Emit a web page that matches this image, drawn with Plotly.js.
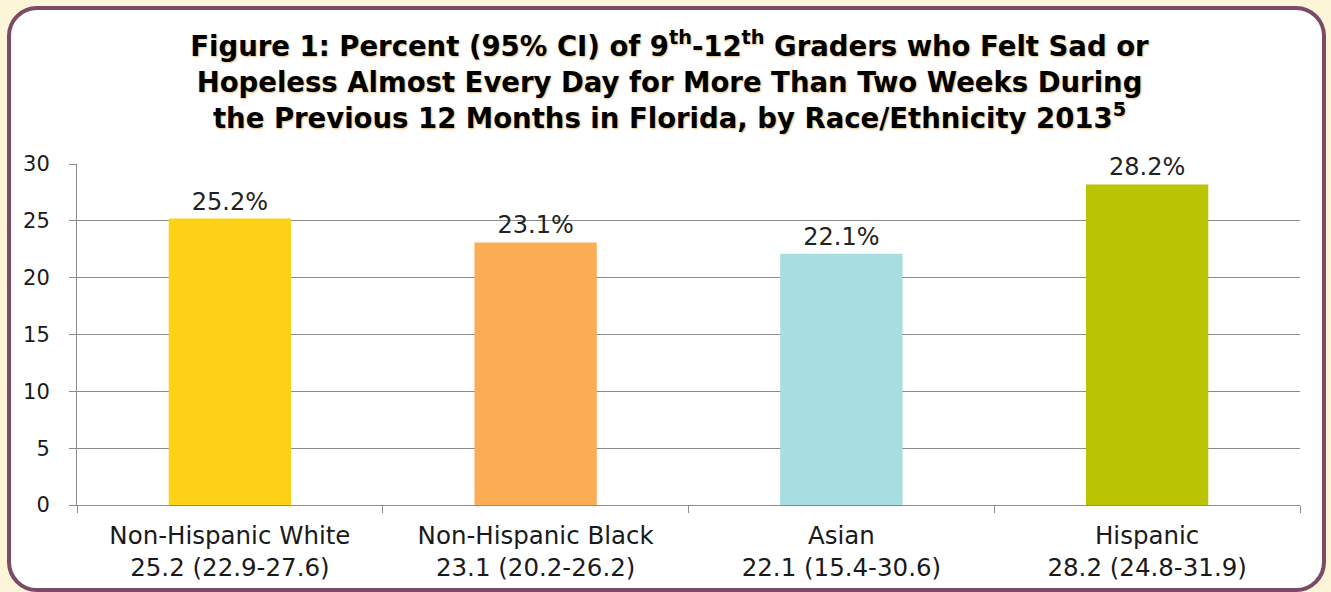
<!DOCTYPE html>
<html>
<head>
<meta charset="utf-8">
<script src="https://cdn.plot.ly/plotly-3.0.1.min.js"></script>
<style>
  html, body { margin:0; padding:0; width:1331px; height:592px; background:#fdf5d8; overflow:hidden; }
  #frame { position:absolute; left:7px; top:6px; width:1311px; height:578px; border:4px solid #7b4a66; border-radius:30px; background:#ffffff; }
  #chart { position:absolute; left:0; top:0; width:1331px; height:592px; }
</style>
</head>
<body>
<div id="frame"></div>
<div id="chart"></div>
<script>
const groups = ["Non-Hispanic White", "Non-Hispanic Black", "Asian", "Hispanic"];
const percents = [25.2, 23.1, 22.1, 28.2];
const ciLow = [22.9, 20.2, 15.4, 24.8];
const ciHigh = [27.6, 26.2, 30.6, 31.9];
const barColors = ["#fcd116", "#fbad56", "#a8dde1", "#bac402"];
const yTicks = [0, 5, 10, 15, 20, 25, 30];

const categoryLabels = groups.map((g, i) =>
  g + "<br>" + percents[i].toFixed(1) + " (" + ciLow[i].toFixed(1) + "-" + ciHigh[i].toFixed(1) + ")");

const FONT = "DejaVu Sans, Liberation Sans, Arial, sans-serif";

const trace = {
  type: "bar",
  x: categoryLabels,
  y: percents,
  marker: { color: barColors },
  texttemplate: "%{y:.1f}%",
  textposition: "outside",
  cliponaxis: false,
  textfont: { family: FONT, size: 24, color: "#222222" },
  hoverinfo: "none"
};

const layout = {
  width: 1331, height: 592,
  paper_bgcolor: "rgba(0,0,0,0)",
  plot_bgcolor: "rgba(0,0,0,0)",
  margin: { l: 77, r: 31, t: 164, b: 87 },
  bargap: 0.6,
  showlegend: false,
  title: {
    text: "Figure 1: Percent (95% CI) of 9<sup>th</sup>-12<sup>th</sup> Graders who Felt Sad or<br>Hopeless Almost Every Day for More Than Two Weeks During<br>the Previous 12 Months in Florida, by Race/Ethnicity 2013<sup>5</sup>",
    x: 0.503, xref: "container", xanchor: "center",
    y: 1 - 56/592, yref: "container", yanchor: "top",
    font: { family: FONT, size: 27.5, color: "#000000", weight: "bold", shadow: "1px 1px 2px rgba(205,150,60,0.6)" }
  },
  xaxis: {
    type: "category",
    range: [-0.5, 3.5],
    showline: true, linecolor: "#8c8c8c", linewidth: 1,
    ticks: "outside", tickson: "boundaries", ticklen: 7, tickcolor: "#8c8c8c",
    ticklabelstandoff: 9,
    showgrid: false,
    tickfont: { family: FONT, size: 24.5, color: "#1a1a1a" },
    fixedrange: true
  },
  yaxis: {
    range: [0, 30],
    tickvals: yTicks,
    showline: true, linecolor: "#8c8c8c", linewidth: 1,
    ticks: "outside", ticklen: 7, tickcolor: "#8c8c8c",
    ticklabelstandoff: 15,
    showgrid: true, gridcolor: "#8c8c8c", gridwidth: 1,
    zeroline: false,
    tickfont: { family: FONT, size: 21, color: "#1a1a1a" },
    fixedrange: true
  }
};

Plotly.newPlot("chart", [trace], layout, { displayModeBar: false, staticPlot: true });
</script>
</body>
</html>
